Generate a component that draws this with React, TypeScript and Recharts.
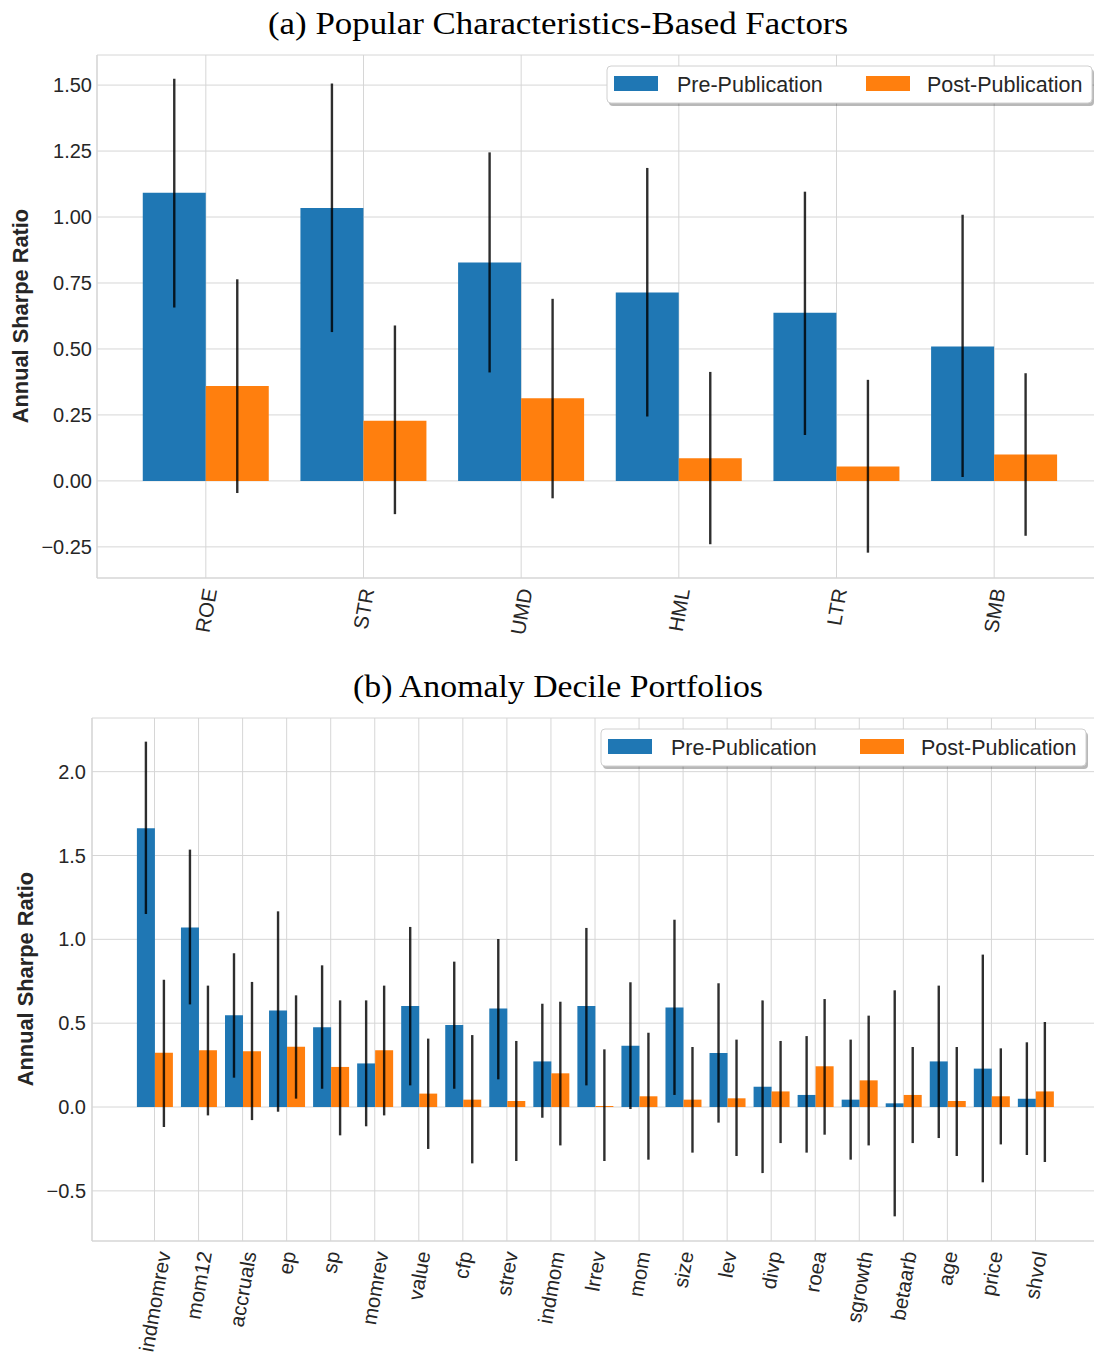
import React from 'react';
import { BarChart, Bar, XAxis, YAxis, CartesianGrid, ErrorBar } from 'recharts';

// ---------- Panel (a): popular characteristics-based factors ----------
const factorNames = ['ROE', 'STR', 'UMD', 'HML', 'LTR', 'SMB'];
const factorPre = [1.092, 1.034, 0.828, 0.714, 0.637, 0.509];
const factorPreLow = [0.657, 0.564, 0.411, 0.244, 0.174, 0.015];
const factorPreHigh = [1.524, 1.506, 1.245, 1.186, 1.096, 1.009];
const factorPost = [0.36, 0.228, 0.313, 0.086, 0.055, 0.1];
const factorPostLow = [-0.046, -0.126, -0.066, -0.24, -0.272, -0.208];
const factorPostHigh = [0.764, 0.589, 0.69, 0.413, 0.383, 0.408];
const factorTicks = [-0.25, 0, 0.25, 0.5, 0.75, 1.0, 1.25, 1.5];

// ---------- Panel (b): anomaly decile portfolios ----------
const anomalyNames = ['indmomrev', 'mom12', 'accruals', 'ep', 'sp', 'momrev', 'value', 'cfp', 'strev', 'indmom', 'lrrev', 'mom', 'size', 'lev', 'divp', 'roea', 'sgrowth', 'betaarb', 'age', 'price', 'shvol'];
const anomalyPre = [1.662, 1.07, 0.547, 0.575, 0.475, 0.26, 0.602, 0.489, 0.588, 0.272, 0.602, 0.366, 0.594, 0.322, 0.121, 0.072, 0.044, 0.022, 0.272, 0.229, 0.05];
const anomalyPreLow = [1.151, 0.612, 0.175, -0.028, 0.109, -0.115, 0.129, 0.109, 0.165, -0.064, 0.129, -0.012, 0.072, -0.093, -0.394, -0.272, -0.314, -0.652, -0.185, -0.449, -0.286];
const anomalyPreHigh = [2.179, 1.535, 0.917, 1.167, 0.845, 0.636, 1.074, 0.867, 1.002, 0.616, 1.068, 0.744, 1.117, 0.738, 0.636, 0.423, 0.402, 0.696, 0.724, 0.909, 0.386];
const anomalyPost = [0.324, 0.338, 0.332, 0.36, 0.239, 0.338, 0.08, 0.044, 0.036, 0.201, 0.006, 0.064, 0.044, 0.052, 0.093, 0.243, 0.159, 0.072, 0.036, 0.064, 0.093];
const anomalyPostLow = [-0.119, -0.05, -0.078, 0.05, -0.169, -0.05, -0.25, -0.336, -0.322, -0.229, -0.322, -0.314, -0.272, -0.292, -0.215, -0.165, -0.229, -0.215, -0.292, -0.223, -0.328];
const anomalyPostHigh = [0.759, 0.724, 0.746, 0.666, 0.636, 0.724, 0.408, 0.429, 0.394, 0.628, 0.344, 0.443, 0.358, 0.402, 0.394, 0.644, 0.545, 0.358, 0.358, 0.35, 0.507];
const anomalyTicks = [-0.5, 0, 0.5, 1.0, 1.5, 2.0];

const seriesLabels = ['Pre-Publication', 'Post-Publication'];
const titles = ['(a) Popular Characteristics-Based Factors', '(b) Anomaly Decile Portfolios'];
const yLabel = 'Annual Sharpe Ratio';

const FONT = '"Liberation Sans", Arial, Helvetica, sans-serif';
const SERIF = '"Liberation Serif", "DejaVu Serif", "Times New Roman", serif';
const TEXT = '#262626';
const GRID = '#d6d6d6';
const BLUE = '#1f77b4';
const ORANGE = '#ff7f0e';
const ERR = 'rgba(0,0,0,0.82)';

function build(names: string[], pre: number[], preLow: number[], preHigh: number[], post: number[], postLow: number[], postHigh: number[]) {
  return names.map((name, i) => ({
    name,
    pre: pre[i],
    post: post[i],
    preErr: [pre[i] - preLow[i], preHigh[i] - pre[i]],
    postErr: [post[i] - postLow[i], postHigh[i] - post[i]],
  }));
}

const factorData = build(factorNames, factorPre, factorPreLow, factorPreHigh, factorPost, factorPostLow, factorPostHigh);
const anomalyData = build(anomalyNames, anomalyPre, anomalyPreLow, anomalyPreHigh, anomalyPost, anomalyPostLow, anomalyPostHigh);

let measureCtx: CanvasRenderingContext2D | null = null;
function measure(s: string, size: number): number {
  if (!measureCtx && typeof document !== 'undefined') {
    const c = document.createElement('canvas');
    measureCtx = c.getContext('2d');
  }
  if (!measureCtx) return s.length * size * 0.5;
  measureCtx.font = `${size}px ${FONT}`;
  return measureCtx.measureText(s).width;
}

function makeXTick(labelTop: number) {
  return (props: any) => {
    const { x, payload } = props;
    const s = String(payload.value);
    const L = measure(s, 20.5);
    const a = (80 * Math.PI) / 180;
    const cy = labelTop + (L * Math.sin(a) + 18 * Math.cos(a)) / 2;
    return (
      <text
        x={x}
        y={cy}
        transform={`rotate(-80 ${x} ${cy})`}
        textAnchor="middle"
        dominantBaseline="central"
        fontSize={20.5}
        fontFamily={FONT}
        fill={TEXT}
      >
        {s}
      </text>
    );
  };
}

const fmt = (d: number) => (v: number) => {
  const s = Math.abs(v).toFixed(d);
  return v < 0 ? '\u2212' + s : s;
};

function Legend({ left, top }: { left: number; top: number }) {
  return (
    <svg style={{ position: 'absolute', left, top }} width={494} height={46}>
      <rect x={4} y={5} width={485} height={37} rx={4} fill="rgba(0,0,0,0.28)" />
      <rect x={2} y={2} width={485} height={37} rx={4} fill="#fff" stroke="#d0d0d0" strokeWidth={1} />
      <rect x={9} y={12} width={44} height={15} fill={BLUE} />
      <text x={72} y={27.5} fontSize={21.5} fontFamily={FONT} fill={TEXT}>{seriesLabels[0]}</text>
      <rect x={261} y={12} width={44} height={15} fill={ORANGE} />
      <text x={322} y={27.5} fontSize={21.5} fontFamily={FONT} fill={TEXT}>{seriesLabels[1]}</text>
    </svg>
  );
}

function Panel(props: {
  data: any[];
  yDomain: [number, number];
  ticks: number[];
  decimals: number;
  yAxisWidth: number;
  rightMargin: number;
  height: number;
  xAxisHeight: number;
  xPad: number;
  labelX: number;
  tickMargin: number;
}) {
  const { data, yDomain, ticks, decimals, yAxisWidth, rightMargin, height, xAxisHeight, xPad, labelX, tickMargin } = props;
  return (
    <BarChart
      width={1110}
      height={height}
      data={data}
      margin={{ top: 55, right: rightMargin, bottom: 0, left: 0 }}
      barGap={0}
      barCategoryGap="10%"
    >
      <CartesianGrid stroke={GRID} strokeWidth={1} vertical={true} horizontal={true} />
      <XAxis
        dataKey="name"
        height={xAxisHeight}
        padding={{ left: xPad, right: xPad }}
        interval={0}
        tickLine={false}
        tickSize={0}
        axisLine={{ stroke: GRID, strokeWidth: 1.2 }}
        tick={makeXTick(587)}
      />
      <XAxis
        xAxisId="top"
        dataKey="name"
        orientation="top"
        height={0}
        padding={{ left: xPad, right: xPad }}
        tick={false}
        tickLine={false}
        axisLine={{ stroke: GRID, strokeWidth: 1.2 }}
      />
      <YAxis
        width={yAxisWidth}
        domain={yDomain}
        ticks={ticks}
        allowDataOverflow={true}
        interval={0}
        tickLine={false}
        tickSize={0}
        tickMargin={tickMargin}
        axisLine={{ stroke: GRID, strokeWidth: 1.2 }}
        tickFormatter={fmt(decimals)}
        tick={{ fontSize: 20, fill: TEXT, fontFamily: FONT }}
        label={{
          content: () => (
            <text
              x={labelX}
              y={316}
              transform={`rotate(-90 ${labelX} 316)`}
              textAnchor="middle"
              dominantBaseline="central"
              fontSize={21.8}
              fontWeight="bold"
              fontFamily={FONT}
              fill={TEXT}
            >
              {yLabel}
            </text>
          ),
        }}
      />
      <Bar dataKey="pre" name={seriesLabels[0]} fill={BLUE} isAnimationActive={false}>
        <ErrorBar dataKey="preErr" width={0} stroke={ERR} strokeWidth={2.4} isAnimationActive={false} />
      </Bar>
      <Bar dataKey="post" name={seriesLabels[1]} fill={ORANGE} isAnimationActive={false}>
        <ErrorBar dataKey="postErr" width={0} stroke={ERR} strokeWidth={2.4} isAnimationActive={false} />
      </Bar>
    </BarChart>
  );
}

export default function App() {
  return (
    <div
      style={{
        position: 'absolute',
        left: 0,
        top: 0,
        width: 1094,
        height: 1355,
        overflow: 'hidden',
        background: '#fff',
      }}
    >
      <div style={{ position: 'absolute', left: 0, top: 0 }}>
        <Panel
          data={factorData}
          yDomain={[-0.368, 1.614]}
          ticks={factorTicks}
          decimals={2}
          yAxisWidth={97}
          rightMargin={7}
          height={660}
          xAxisHeight={82}
          xPad={30}
          labelX={20}
          tickMargin={5}
        />
      </div>
      <div style={{ position: 'absolute', left: 0, top: 663 }}>
        <Panel
          data={anomalyData}
          yDomain={[-0.799, 2.32]}
          ticks={anomalyTicks}
          decimals={1}
          yAxisWidth={92}
          rightMargin={12}
          height={692}
          xAxisHeight={114}
          xPad={40.5}
          labelX={25}
          tickMargin={6}
        />
      </div>
      <svg style={{ position: 'absolute', left: 0, top: 0 }} width={1094} height={720}>
        <text x={558} y={34} textAnchor="middle" fontSize={32} fontFamily={SERIF} fill="#000" textLength={580} lengthAdjust="spacingAndGlyphs">
          {titles[0]}
        </text>
        <text x={558} y={697} textAnchor="middle" fontSize={32} fontFamily={SERIF} fill="#000" textLength={410} lengthAdjust="spacingAndGlyphs">
          {titles[1]}
        </text>
      </svg>
      <Legend left={605} top={64} />
      <Legend left={599} top={727} />
    </div>
  );
}
